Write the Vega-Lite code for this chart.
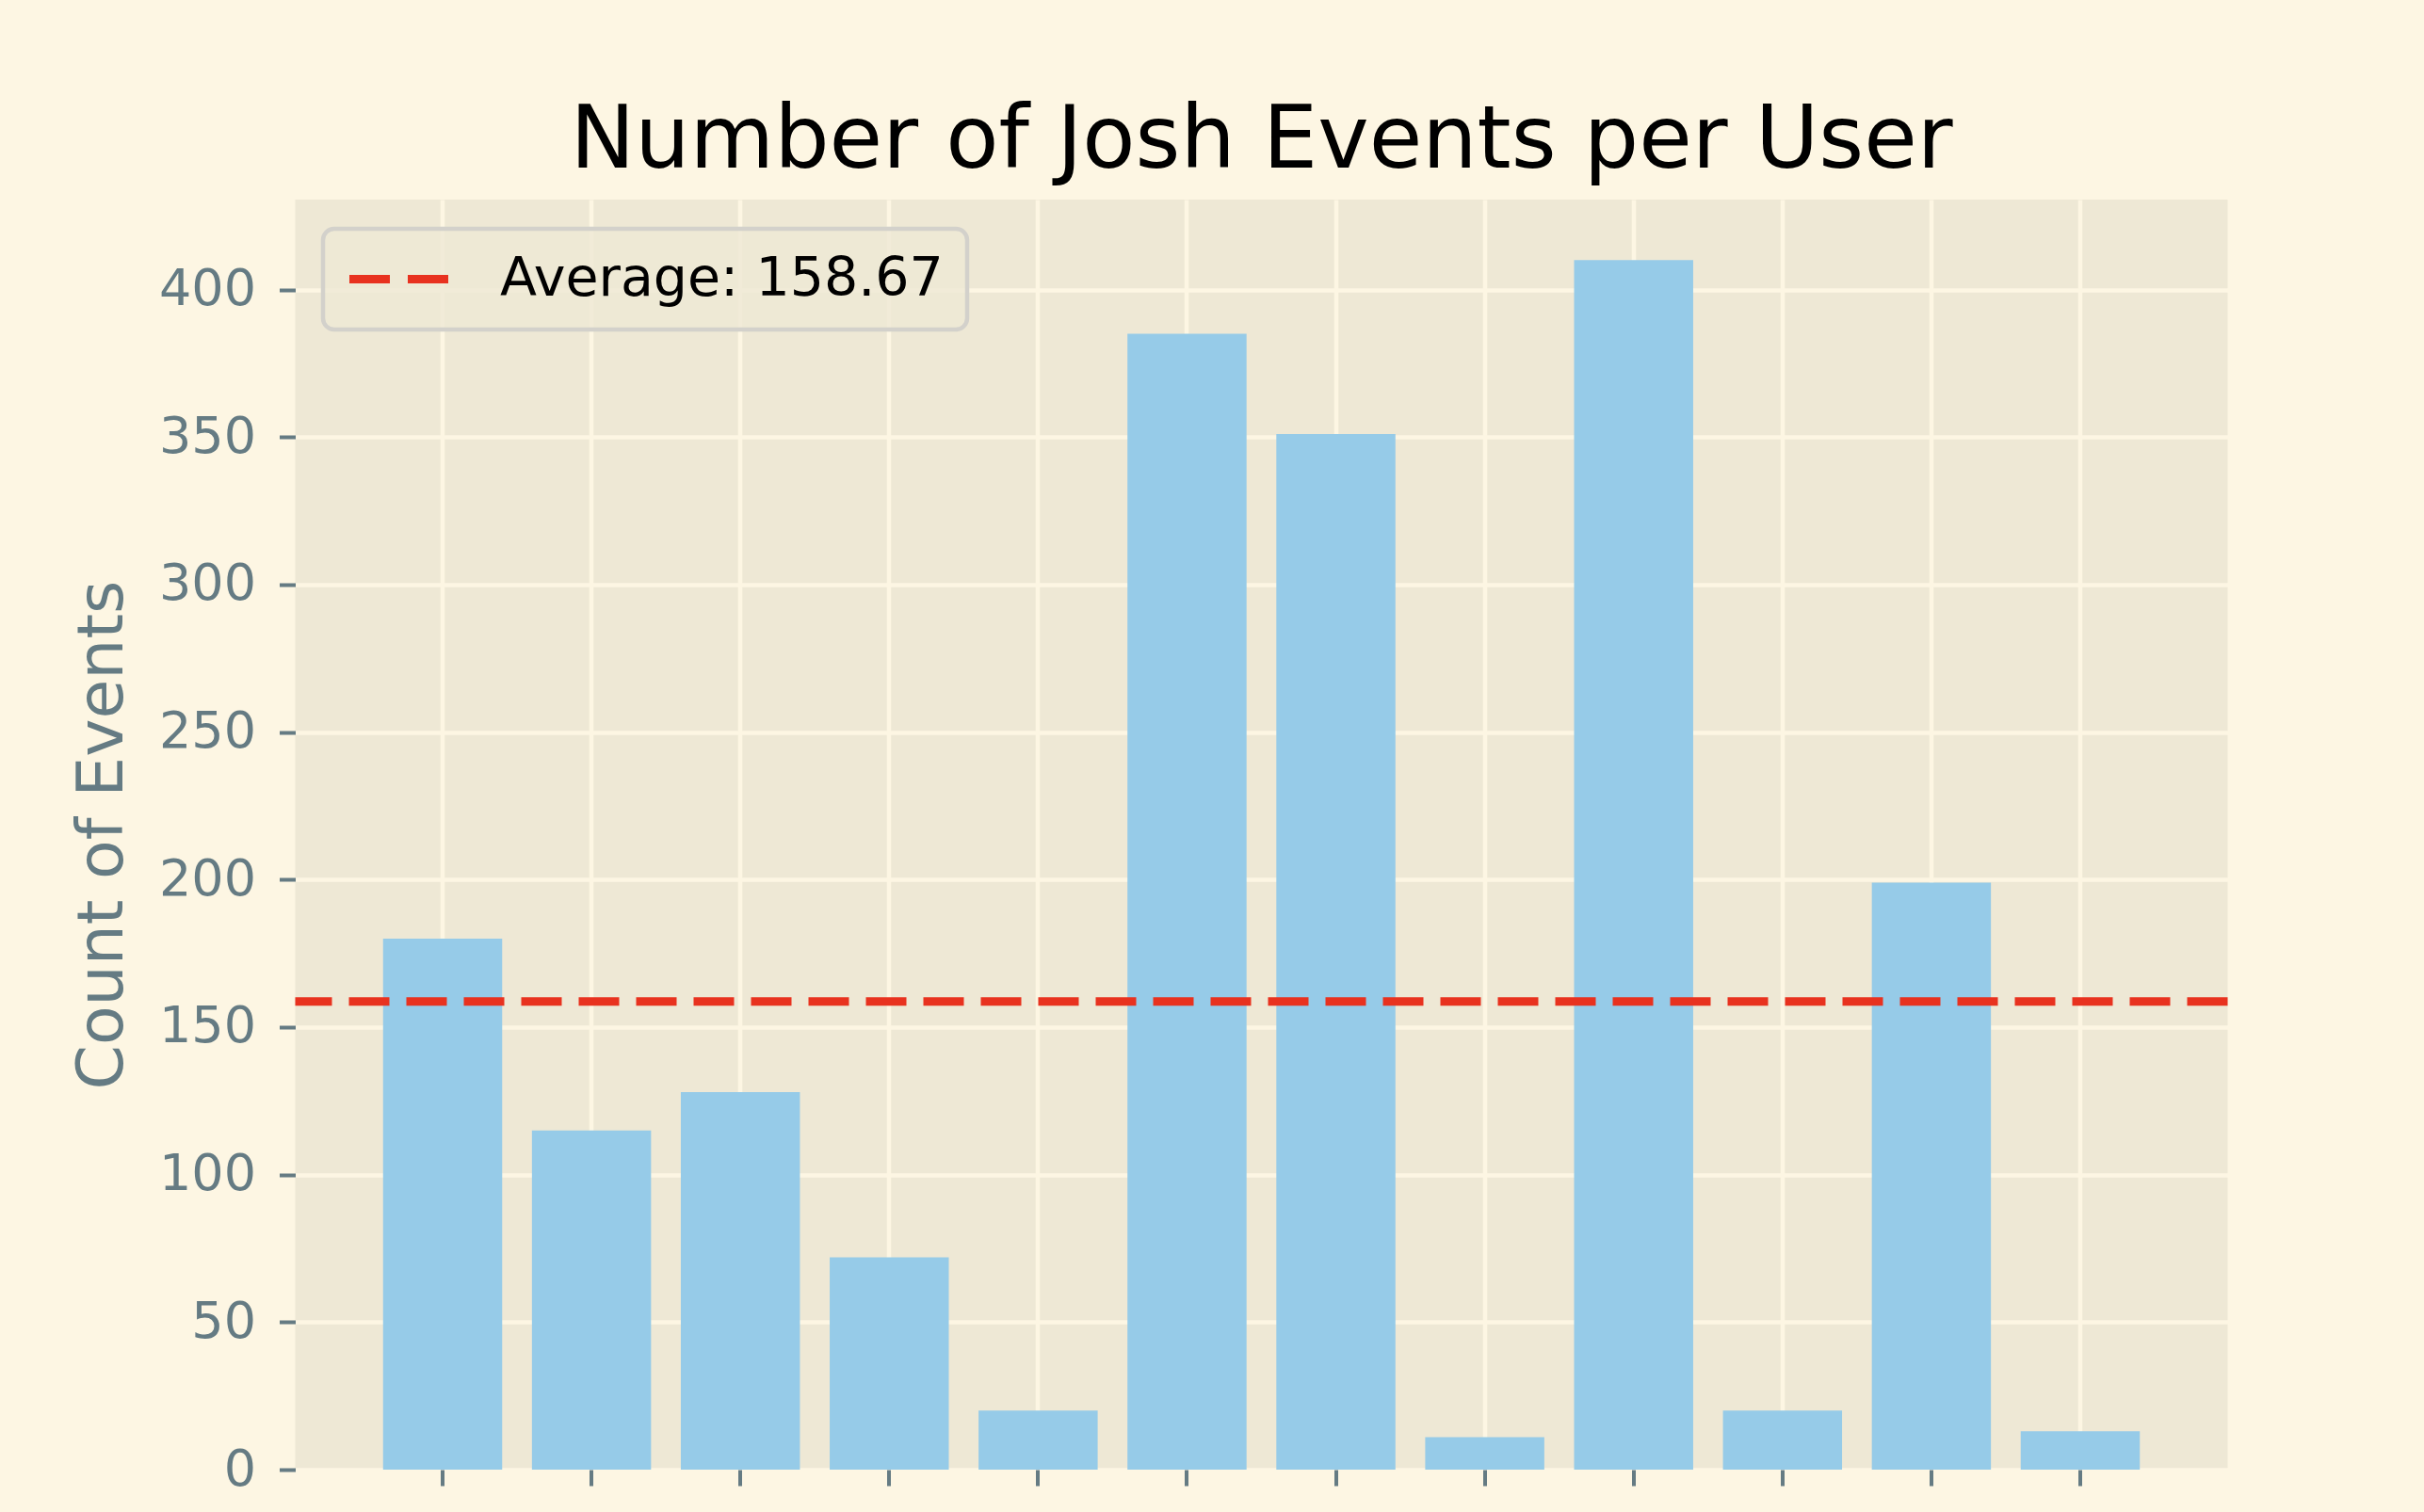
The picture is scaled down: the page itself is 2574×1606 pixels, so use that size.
{
  "$schema": "https://vega.github.io/schema/vega-lite/v6.json",
  "width": 2052,
  "height": 1349,
  "autosize": {"type": "none"},
  "padding": {"left": 313.5, "top": 212, "right": 208.5, "bottom": 45},
  "background": "#FDF6E3",
  "title": {
    "text": "Number of Josh Events per User",
    "fontSize": 92,
    "font": "DejaVu Sans",
    "fontWeight": "normal",
    "color": "#000000",
    "anchor": "middle",
    "frame": "group",
    "baseline": "alphabetic",
    "offset": -58
  },
  "config": {
    "view": {"fill": "#EEE8D5", "stroke": null},
    "font": "DejaVu Sans",
    "axis": {
      "domain": false,
      "grid": true,
      "gridColor": "#FDF6E3",
      "gridWidth": 4.5,
      "gridOpacity": 1,
      "tickColor": "#657B83",
      "tickWidth": 4,
      "tickSize": 17,
      "labelColor": "#657B83",
      "labelFont": "DejaVu Sans",
      "labelFontSize": 54,
      "titleColor": "#657B83",
      "titleFont": "DejaVu Sans",
      "titleFontWeight": "normal"
    }
  },
  "layer": [
    {
      "data": {
        "values": [
          {"user": "User 1", "count": 180},
          {"user": "User 2", "count": 115},
          {"user": "User 3", "count": 128},
          {"user": "User 4", "count": 72},
          {"user": "User 5", "count": 20},
          {"user": "User 6", "count": 385},
          {"user": "User 7", "count": 351},
          {"user": "User 8", "count": 11},
          {"user": "User 9", "count": 410},
          {"user": "User 10", "count": 20},
          {"user": "User 11", "count": 199},
          {"user": "User 12", "count": 13}
        ]
      },
      "mark": {"type": "bar", "color": "#96CBE8"},
      "encoding": {
        "x": {
          "field": "user",
          "type": "nominal",
          "sort": null,
          "scale": {"paddingInner": 0.2, "paddingOuter": 0.59},
          "axis": {"labels": false, "title": null, "ticks": true}
        },
        "y": {
          "field": "count",
          "type": "quantitative",
          "scale": {"domain": [0, 430.5], "nice": false, "zero": true},
          "axis": {
            "values": [0, 50, 100, 150, 200, 250, 300, 350, 400],
            "title": "Count of Events",
            "titleFontSize": 68,
            "titlePadding": 25,
            "labelPadding": 25
          }
        }
      }
    },
    {
      "data": {"values": [{"label": "Average: 158.67", "avg": 158.67}]},
      "mark": {"type": "rule", "strokeWidth": 9, "strokeDash": [43, 18]},
      "encoding": {
        "y": {"field": "avg", "type": "quantitative"},
        "stroke": {
          "field": "label",
          "type": "nominal",
          "scale": {"range": ["#E8321F"]},
          "legend": {
            "title": null,
            "orient": "none",
            "legendX": 29.5,
            "legendY": 31,
            "padding": 25,
            "fillColor": "rgba(238,232,213,0.8)",
            "strokeColor": "#D3D1CB",
            "cornerRadius": 12,
            "symbolType": "M-2.5,0H2.5",
            "symbolSize": 1764,
            "symbolStrokeWidth": 9,
            "symbolDash": [43, 19],
            "symbolOffset": 27,
            "symbolFillColor": "transparent",
            "labelOffset": 79,
            "labelFontSize": 57,
            "labelFont": "DejaVu Sans",
            "labelColor": "#000000",
            "labelLimit": 1000,
            "encode": {
              "legend": {"update": {"strokeWidth": {"value": 4.5}}}
            }
          }
        }
      }
    }
  ]
}
